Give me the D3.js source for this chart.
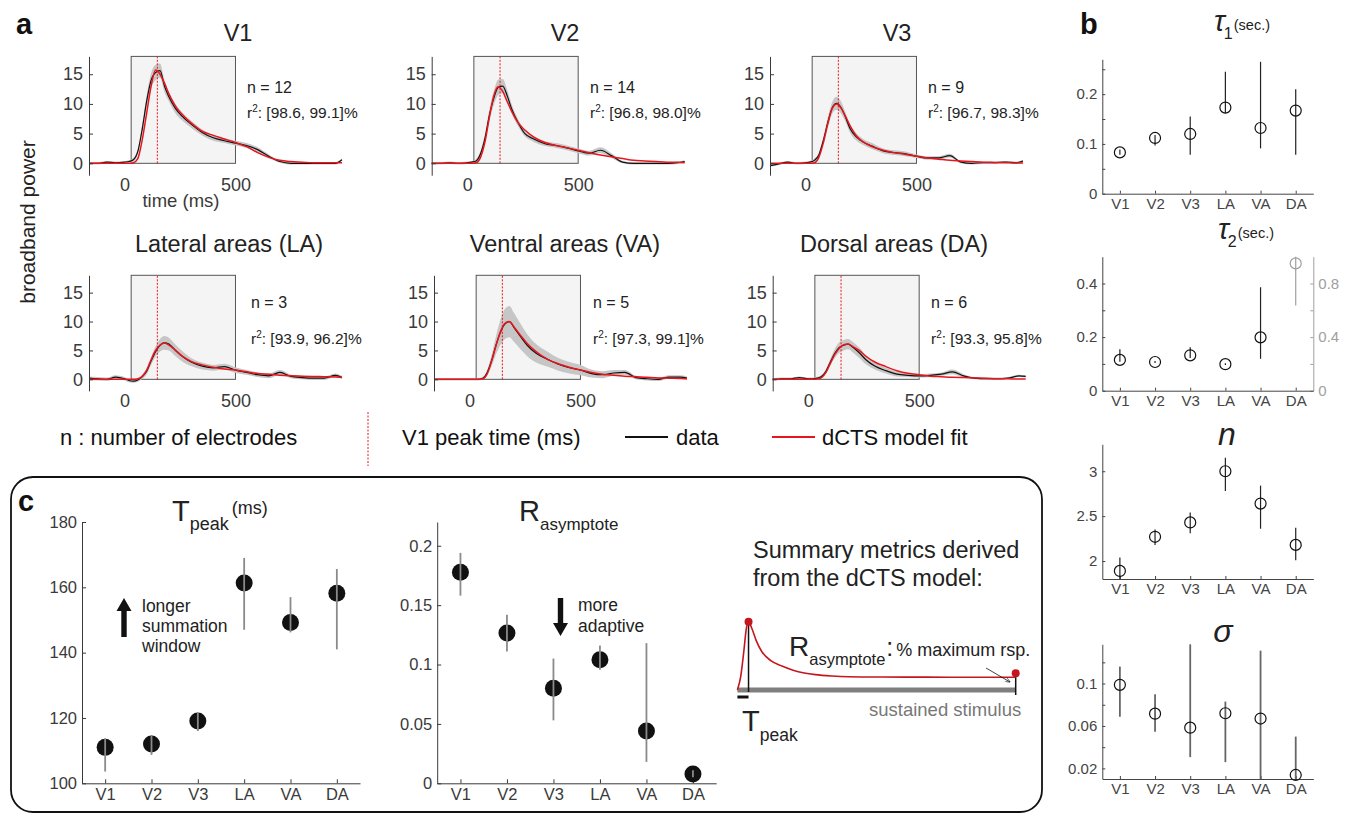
<!DOCTYPE html>
<html>
<head>
<meta charset="utf-8">
<script src="https://cdn.jsdelivr.net/npm/d3@7"></script>
<style>
  body { margin: 0; background: #fff; }
  svg { font-family: "Liberation Sans", Arial, Helvetica, sans-serif; }
</style>
</head>
<body>
<svg id="fig" width="1353" height="815"></svg>
<script>
// ---------- data ----------
// time grid of the broadband traces (ms)
const times = [-160,-120,-80,-40,0,20,40,60,80,100,120,140,160,180,200,230,260,300,350,400,450,500,550,600,650,700,750,800,850,900,950,980];
const stimOn = 30, stimOff = 500, v1PeakTime = 148;

const areaNames = ["V1", "V2", "V3", "LA", "VA", "DA"];
const areaTitles = ["V1", "V2", "V3", "Lateral areas (LA)", "Ventral areas (VA)", "Dorsal areas (DA)"];
const electrodeCounts = [12, 14, 9, 3, 5, 6];
const r2Ranges = ["[98.6, 99.1]%", "[96.8, 98.0]%", "[96.7, 98.3]%", "[93.9, 96.2]%", "[97.3, 99.1]%", "[93.3, 95.8]%"];

// mean data, model fit and band half-width per area
const dataV1 = [0.0,0.0,0.2,0.1, 0.2,0.3,0.6,2.0,5.8,10.5,14.0,15.3,15.6,13.0,11.2, 9.2,7.9,6.6,5.2,4.3,3.8,3.4, 3.0,2.3,1.2,0.3,0.0,0.0,0.0,0.0,0.0,0.6];
const fitV1  = [0,0,0,0, 0,0,0.1,0.8,4.0,8.5,13.0,15.7,15.0,13.5,11.7, 9.6,8.2,6.8,5.4,4.7,4.1,3.5, 2.8,1.8,1.0,0.5,0.3,0.2,0.1,0.1,0.1,0.1];
const bandV1 = [0.2,0.2,0.2,0.2, 0.2,0.2,0.3,0.5,0.8,1.0,1.2,1.3,1.2,1.0,0.8, 0.8,0.7,0.6,0.5,0.5,0.4,0.4, 0.4,0.4,0.3,0.2,0.2,0.2,0.2,0.2,0.2,0.2];

const dataV2 = [0.0,0.0,0.1,0.0, 0.1,0.2,0.4,1.6,4.2,8.1,11.0,12.8,13.0,11.4,9.2, 6.8,5.0,4.1,3.3,3.0,2.6,2.1, 1.7,2.2,1.3,0.2,0.0,0.0,0.0,0.0,0.1,0.3];
const fitV2  = [0,0,0,0, 0,0,0.1,1.0,3.6,7.8,11.4,12.9,12.1,10.4,8.8, 6.8,5.6,4.4,3.5,3.0,2.6,2.2, 1.8,1.4,1.1,0.8,0.5,0.4,0.3,0.2,0.2,0.1];
const bandV2 = [0.2,0.2,0.2,0.2, 0.2,0.2,0.3,0.5,0.8,1.0,1.2,1.3,1.2,1.0,0.8, 0.6,0.5,0.5,0.4,0.4,0.4,0.4, 0.4,0.5,0.4,0.2,0.2,0.2,0.2,0.2,0.2,0.2];

const dataV3 = [-0.4,-0.1,0.2,0.0, 0.1,0.2,0.5,1.4,3.8,6.8,9.3,10.1,9.4,7.8,5.9, 4.4,3.6,2.9,2.1,1.8,1.6,1.2, 0.9,0.9,1.3,0.2,0.0,0.1,0.1,0.2,0.1,0.4];
const fitV3  = [0,0,0,0, 0,0,0.1,1.0,3.4,6.6,9.2,10.0,9.3,7.9,6.4, 4.6,3.6,2.8,2.2,1.8,1.5,1.2, 0.9,0.7,0.5,0.4,0.3,0.2,0.15,0.1,0.05,0.05];
const bandV3 = [0.2,0.2,0.2,0.2, 0.2,0.2,0.3,0.4,0.6,0.9,1.0,1.1,1.0,0.8,0.7, 0.6,0.5,0.5,0.4,0.4,0.4,0.3, 0.3,0.3,0.3,0.2,0.2,0.2,0.2,0.2,0.2,0.2];

const dataLA = [0.2,0.1,0.0,0.4, 0.1,-0.2,-0.3,-0.1,0.5,1.4,3.2,4.8,5.9,6.3,6.1, 5.0,4.0,3.0,2.3,2.0,2.2,1.6, 1.2,0.8,0.6,1.2,0.5,0.3,0.2,0.2,0.7,0.3];
const fitLA  = [0,0,0,0, 0,0,0,0.1,0.5,1.6,3.4,5.0,5.9,6.3,5.9, 5.0,4.0,3.1,2.5,2.1,1.8,1.6, 1.3,1.0,0.9,0.7,0.6,0.55,0.5,0.45,0.4,0.35];
const bandLA = [0.3,0.3,0.3,0.3, 0.3,0.3,0.3,0.3,0.4,0.5,0.7,0.9,1.1,1.2,1.1, 1.0,0.9,0.7,0.6,0.5,0.5,0.5, 0.4,0.4,0.4,0.4,0.3,0.3,0.3,0.3,0.3,0.3];

const dataVA = [0,0,0,0, 0,0,0,0.2,1.2,3.3,6.0,8.2,9.6,10.0,9.0, 7.4,5.9,4.5,3.5,2.6,2.0,1.6, 1.0,0.8,1.1,1.2,0.3,0.1,0.0,0.4,0.4,0.2];
const fitVA  = [0,0,0,0, 0,0,0,0.1,1.0,3.2,5.9,8.3,9.7,10.0,9.1, 7.6,6.2,4.8,3.5,2.7,2.1,1.6, 1.2,0.9,0.7,0.55,0.45,0.35,0.25,0.2,0.15,0.1];
const bandVA = [0.2,0.2,0.2,0.2, 0.2,0.2,0.2,0.2,0.5,1.0,1.6,2.2,2.6,2.7,2.5, 2.2,1.9,1.6,1.3,1.1,1.0,0.9, 0.7,0.6,0.5,0.4,0.3,0.3,0.3,0.3,0.3,0.3];

const dataDA = [0.0,0.1,0.1,0.3, 0.1,0.1,0.2,0.5,1.4,3.0,4.5,5.5,5.9,6.1,5.6, 4.6,3.4,2.3,1.5,0.9,0.7,0.6, 0.7,0.9,1.3,0.6,0.2,0.1,0.1,0.2,0.6,0.5];
const fitDA  = [0,0,0,0, 0,0,0.05,0.3,1.2,2.8,4.3,5.4,6.0,6.1,5.7, 5.0,4.0,3.0,2.2,1.5,1.05,0.8, 0.55,0.45,0.35,0.3,0.25,0.2,0.1,0.1,0.05,0.05];
const bandDA = [0.2,0.2,0.2,0.2, 0.2,0.2,0.2,0.3,0.4,0.6,0.8,0.9,0.9,0.9,0.9, 0.9,0.8,0.6,0.5,0.4,0.3,0.3, 0.3,0.3,0.4,0.3,0.2,0.2,0.2,0.2,0.2,0.2];

// panel b: model parameters (median and interval per area)
const tau1Mean = [0.083, 0.112, 0.120, 0.173, 0.132, 0.167];
const tau1Low  = [0.078, 0.097, 0.078, 0.162, 0.091, 0.078];
const tau1High = [0.089, 0.118, 0.155, 0.245, 0.265, 0.210];

const tau2Mean = [0.115, 0.107, 0.132, 0.099, 0.199, 0.95];
const tau2Low  = [0.108, 0.103, 0.122, 0.096, 0.119, 0.635];
const tau2High = [0.155, 0.111, 0.162, 0.102, 0.386, 1.0];

const nMean = [1.89, 2.27, 2.43, 3.0, 2.64, 2.18];
const nLow  = [1.80, 2.18, 2.31, 2.78, 2.36, 2.01];
const nHigh = [2.04, 2.35, 2.54, 3.15, 2.84, 2.37];

const sigmaMean = [0.0988, 0.0716, 0.0584, 0.072, 0.067, 0.0138];
const sigmaLow  = [0.0687, 0.0545, 0.0306, 0.0259, 0.010, 0.010];
const sigmaHigh = [0.116, 0.090, 0.137, 0.083, 0.131, 0.050];

// panel c: summary metrics
const tpeakMean = [111.0, 112.0, 119.1, 161.3, 149.2, 158.2];
const tpeakLow  = [103.6, 108.7, 116.0, 147.0, 146.2, 141.0];
const tpeakHigh = [113.8, 114.8, 121.6, 169.0, 157.0, 165.6];

const rasymMean = [0.1776, 0.1265, 0.080, 0.104, 0.044, 0.0078];
const rasymLow  = [0.158, 0.111, 0.053, 0.0955, 0.018, 0.005];
const rasymHigh = [0.194, 0.142, 0.105, 0.116, 0.118, 0.011];

// schematic dCTS response to a sustained stimulus
const schemT = [0, 0.3, 0.6, 0.8, 1.0, 1.3, 1.7, 2.2, 3, 4, 5, 6, 7, 8.5, 10, 13, 17, 21, 25];
const schemR = [0, 0.2, 0.6, 0.9, 1.0, 0.9, 0.72, 0.56, 0.43, 0.35, 0.29, 0.25, 0.225, 0.205, 0.195, 0.19, 0.188, 0.187, 0.186];

// ---------- drawing ----------
const svg = d3.select("#fig");
const ink = "#333";
const red = "#e8161c";

svg.append("rect").attr("width", 1353).attr("height", 815).attr("fill", "#fff");

function styleAxis(g, size, color) {
  g.attr("font-family", null).attr("font-size", size).attr("color", color || ink);
  g.selectAll("text").attr("fill", color || ink);
}

// panel labels
[["a", 16, 34], ["b", 1080, 34], ["c", 18, 511]].forEach(([t, x, y]) => {
  svg.append("text").attr("x", x).attr("y", y).attr("font-size", 29)
    .attr("font-weight", "bold").attr("fill", "#111").text(t);
});

// ----- panel a: broadband traces -----
const tracePanels = [
  { data: dataV1, fit: fitV1, band: bandV1 },
  { data: dataV2, fit: fitV2, band: bandV2 },
  { data: dataV3, fit: fitV3, band: bandV3 },
  { data: dataLA, fit: fitLA, band: bandLA },
  { data: dataVA, fit: fitVA, band: bandVA },
  { data: dataDA, fit: fitDA, band: bandDA }
];

const rowGeom = [
  { top: 56.4, bottom: 175.2, titleY: 41, nY: 93, rY: 117.5, pad: 3.5 },
  { top: 275.3, bottom: 390.9, titleY: 252, nY: 307.5, rY: 344, pad: 3 }
];
const panelGeom = [
  { x: 89, row: 0, titleX: 238, textX: 247 },
  { x: 431.7, row: 0, titleX: 565, textX: 590 },
  { x: 770, row: 0, titleX: 897, textX: 928 },
  { x: 89, row: 1, titleX: 229, textX: 251 },
  { x: 434, row: 1, titleX: 565, textX: 593 },
  { x: 772.7, row: 1, titleX: 894, textX: 931 }
];

tracePanels.forEach((p, i) => {
  const geo = panelGeom[i], row = rowGeom[geo.row];
  const x = d3.scaleLinear().domain([-160, 980]).range([geo.x, geo.x + 253]);
  const y = d3.scaleLinear().domain([-2, 18]).range([row.bottom, row.top]);
  const g = svg.append("g");

  // stimulus window
  g.append("rect")
    .attr("x", x(stimOn)).attr("y", y(18))
    .attr("width", x(stimOff) - x(stimOn)).attr("height", y(0) - y(18))
    .attr("fill", "#f4f4f4").attr("stroke", "#555").attr("stroke-width", 1);

  const band = d3.area()
    .x((d, j) => x(times[j]))
    .y0((d, j) => y(p.data[j] - p.band[j]))
    .y1((d, j) => y(p.data[j] + p.band[j]))
    .curve(d3.curveMonotoneX);
  g.append("path").attr("d", band(times)).attr("fill", "#c6c6c6");

  const line = d3.line().x((d, j) => x(times[j])).y(d => y(d)).curve(d3.curveMonotoneX);
  g.append("path").attr("d", line(p.data)).attr("fill", "none").attr("stroke", "#111").attr("stroke-width", 1.2);
  g.append("path").attr("d", line(p.fit)).attr("fill", "none").attr("stroke", red).attr("stroke-width", 1.5);

  g.append("line")
    .attr("x1", x(v1PeakTime)).attr("x2", x(v1PeakTime))
    .attr("y1", y(0)).attr("y2", y(18))
    .attr("stroke", red).attr("stroke-width", 1).attr("stroke-dasharray", "2,1.5");

  const ya = g.append("g").attr("transform", `translate(${geo.x},0)`)
    .call(d3.axisLeft(y).tickValues([0, 5, 10, 15]).tickSize(-4).tickSizeOuter(0).tickPadding(6));
  styleAxis(ya, 18, "#3a3a3a");

  const xa = g.append("g").attr("transform", `translate(0,${row.bottom})`)
    .call(d3.axisBottom(x).tickValues([0, 500]).tickSize(0).tickPadding(row.pad));
  xa.select(".domain").remove();
  styleAxis(xa, 18, "#3a3a3a");

  g.append("text").attr("x", geo.titleX).attr("y", row.titleY).attr("text-anchor", "middle")
    .attr("font-size", 23.5).attr("fill", "#222").text(areaTitles[i]);

  g.append("text").attr("x", geo.textX).attr("y", row.nY).attr("font-size", 16).attr("fill", "#222")
    .text(`n = ${electrodeCounts[i]}`);
  const rt = g.append("text").attr("x", geo.textX).attr("y", row.rY).attr("font-size", 15.5).attr("fill", "#222");
  rt.append("tspan").text("r");
  rt.append("tspan").attr("dy", -6).attr("font-size", 10).text("2");
  rt.append("tspan").attr("dy", 6).text(": " + r2Ranges[i]);

  if (i === 0) {
    g.append("text").attr("x", 181).attr("y", 207).attr("text-anchor", "middle")
      .attr("font-size", 18.5).attr("fill", "#3a3a3a").text("time (ms)");
  }
});

svg.append("text").attr("transform", "translate(35,222) rotate(-90)").attr("text-anchor", "middle")
  .attr("font-size", 21).attr("fill", "#222").text("broadband power");

// legend of panel a
const leg = svg.append("g").attr("font-size", 22).attr("fill", "#111");
leg.append("text").attr("x", 60).attr("y", 445).text("n : number of electrodes");
leg.append("line").attr("x1", 368).attr("x2", 368).attr("y1", 412).attr("y2", 466)
  .attr("stroke", red).attr("stroke-width", 1).attr("stroke-dasharray", "2,1.5");
leg.append("text").attr("x", 402).attr("y", 445).text("V1 peak time (ms)");
leg.append("line").attr("x1", 625).attr("x2", 668).attr("y1", 437).attr("y2", 437).attr("stroke", "#111").attr("stroke-width", 2);
leg.append("text").attr("x", 676).attr("y", 445).text("data");
leg.append("line").attr("x1", 772).attr("x2", 815).attr("y1", 437).attr("y2", 437).attr("stroke", red).attr("stroke-width", 2);
leg.append("text").attr("x", 822).attr("y", 445).text("dCTS model fit");

// ----- panel b: model parameters -----
const bX = d3.scaleLinear().domain([0.5, 6.5]).range([1102.3, 1313.3]);
const paramPanels = [
  { mean: tau1Mean, low: tau1Low, high: tau1High, domain: [0, 0.27], range: [193.7, 59.3],
    major: [0, 0.1, 0.2], minor: [0.05, 0.15, 0.25], bar: "#222", barW: 1.2 },
  { mean: tau2Mean, low: tau2Low, high: tau2High, domain: [0, 0.5], range: [390.7, 256.7],
    major: [0, 0.2, 0.4], minor: [0.1, 0.3], bar: "#222", barW: 1.2,
    right: { domain: [0, 1], major: [0, 0.4, 0.8], minor: [0.2, 0.6], idx: [5], color: "#a0a0a0" } },
  { mean: nMean, low: nLow, high: nHigh, domain: [1.8, 3.3], range: [579, 444.3],
    major: [2, 2.5, 3], minor: [], bar: "#222", barW: 1.2 },
  { mean: sigmaMean, low: sigmaLow, high: sigmaHigh, domain: [0.01, 0.137], range: [779, 644.3],
    major: [0.02, 0.06, 0.1], minor: [0.04, 0.08, 0.12], bar: "#666", barW: 1.8 }
];

paramPanels.forEach(pp => {
  const y = d3.scaleLinear().domain(pp.domain).range(pp.range);
  const yr = pp.right ? d3.scaleLinear().domain(pp.right.domain).range(pp.range) : null;
  const g = svg.append("g");
  const onRight = j => pp.right && pp.right.idx.includes(j);

  const la = g.append("g").attr("transform", `translate(${bX.range()[0]},0)`)
    .call(d3.axisLeft(y).tickValues(pp.major).tickFormat(d => String(d)).tickSize(-3).tickSizeOuter(0).tickPadding(5));
  styleAxis(la, 15, "#444");
  const lm = g.append("g").attr("transform", `translate(${bX.range()[0]},0)`)
    .call(d3.axisLeft(y).tickValues(pp.minor).tickFormat("").tickSize(-3).tickSizeOuter(0));
  lm.select(".domain").remove();
  styleAxis(lm, 15, "#444");

  if (yr) {
    const ra = g.append("g").attr("transform", `translate(${bX.range()[1]},0)`)
      .call(d3.axisRight(yr).tickValues(pp.right.major).tickFormat(d => String(d)).tickSize(-3).tickSizeOuter(0).tickPadding(5));
    styleAxis(ra, 15, pp.right.color);
    const rm = g.append("g").attr("transform", `translate(${bX.range()[1]},0)`)
      .call(d3.axisRight(yr).tickValues(pp.right.minor).tickFormat("").tickSize(-3).tickSizeOuter(0));
    rm.select(".domain").remove();
    styleAxis(rm, 15, pp.right.color);
  }

  const ba = g.append("g").attr("transform", `translate(0,${pp.range[0]})`)
    .call(d3.axisBottom(bX).tickValues([1, 2, 3, 4, 5, 6]).tickFormat(d => areaNames[d - 1])
      .tickSize(-3).tickSizeOuter(0).tickPadding(4.5));
  styleAxis(ba, 15, "#444");

  const sc = j => onRight(j) ? yr : y;
  g.selectAll("line.err").data(pp.mean).join("line").attr("class", "err")
    .attr("x1", (d, j) => bX(j + 1)).attr("x2", (d, j) => bX(j + 1))
    .attr("y1", (d, j) => sc(j)(pp.low[j])).attr("y2", (d, j) => sc(j)(pp.high[j]))
    .attr("stroke", (d, j) => onRight(j) ? pp.right.color : pp.bar)
    .attr("stroke-width", pp.barW);
  g.selectAll("circle.pt").data(pp.mean).join("circle").attr("class", "pt")
    .attr("cx", (d, j) => bX(j + 1)).attr("cy", (d, j) => sc(j)(d)).attr("r", 5.5)
    .attr("fill", "none").attr("stroke", (d, j) => onRight(j) ? pp.right.color : "#111").attr("stroke-width", 1.2);
});

// panel b titles
[["1", 1214, 31], ["2", 1218, 239]].forEach(([k, x, y]) => {
  const t = svg.append("text").attr("x", x).attr("y", y).attr("fill", "#222");
  t.append("tspan").attr("font-size", 29).attr("font-style", "italic").text("τ");
  t.append("tspan").attr("font-size", 16).attr("dy", 8).attr("dx", -1).text(k);
  t.append("tspan").attr("font-size", 14.5).attr("dy", -9).attr("dx", 1).text("(sec.)");
});
svg.append("text").attr("x", 1227).attr("y", 445).attr("text-anchor", "middle")
  .attr("font-size", 32).attr("font-style", "italic").attr("fill", "#222").text("n");
svg.append("text").attr("x", 1223).attr("y", 642).attr("text-anchor", "middle")
  .attr("font-size", 32).attr("font-style", "italic").attr("fill", "#222").text("σ");

// ----- panel c: summary metrics -----
svg.append("rect").attr("x", 11).attr("y", 477).attr("width", 1031).attr("height", 335)
  .attr("rx", 22).attr("fill", "none").attr("stroke", "#111").attr("stroke-width", 1.8);

const summaryPanels = [
  { mean: tpeakMean, low: tpeakLow, high: tpeakHigh, x: [82, 360], domain: [100, 180],
    ticks: [100, 120, 140, 160, 180] },
  { mean: rasymMean, low: rasymLow, high: rasymHigh, x: [437.2, 716.2], domain: [0, 0.22],
    ticks: [0, 0.05, 0.1, 0.15, 0.2] }
];
summaryPanels.forEach(sp => {
  const x = d3.scaleLinear().domain([0.5, 6.5]).range(sp.x);
  const y = d3.scaleLinear().domain(sp.domain).range([783.3, 522]);
  const g = svg.append("g");
  const la = g.append("g").attr("transform", `translate(${sp.x[0]},0)`)
    .call(d3.axisLeft(y).tickValues(sp.ticks).tickFormat(d => String(d)).tickSize(-4).tickSizeOuter(0).tickPadding(5));
  styleAxis(la, 16.5, "#3a3a3a");
  const ba = g.append("g").attr("transform", `translate(0,783.3)`)
    .call(d3.axisBottom(x).tickValues([1, 2, 3, 4, 5, 6]).tickFormat(d => areaNames[d - 1])
      .tickSize(-4).tickSizeOuter(0).tickPadding(5));
  styleAxis(ba, 16.5, "#3a3a3a");
  g.selectAll("circle").data(sp.mean).join("circle")
    .attr("cx", (d, j) => x(j + 1)).attr("cy", d => y(d)).attr("r", 8.5).attr("fill", "#111");
  g.selectAll("line.err").data(sp.mean).join("line").attr("class", "err")
    .attr("x1", (d, j) => x(j + 1)).attr("x2", (d, j) => x(j + 1))
    .attr("y1", (d, j) => y(sp.low[j])).attr("y2", (d, j) => y(sp.high[j]))
    .attr("stroke", "#8a8a8a").attr("stroke-width", 1.8);
});

// titles of panel c
const tp = svg.append("text").attr("x", 172).attr("y", 521).attr("fill", "#222");
tp.append("tspan").attr("font-size", 29).text("T");
tp.append("tspan").attr("font-size", 18).attr("dy", 9).text("peak");
tp.append("tspan").attr("font-size", 18).attr("dy", -16).attr("dx", 3).text("(ms)");
const ra = svg.append("text").attr("x", 519).attr("y", 521).attr("fill", "#222");
ra.append("tspan").attr("font-size", 29).text("R");
ra.append("tspan").attr("font-size", 17).attr("dy", 9).text("asymptote");

// block arrows with annotations
function blockArrow(cx, yTail, yTip) {
  const dir = yTip < yTail ? -1 : 1, hw = 7.5, sw = 2.7, hh = 13;
  const yb = yTip - dir * hh;
  return `M${cx - sw},${yTail}L${cx - sw},${yb}L${cx - hw},${yb}L${cx},${yTip}L${cx + hw},${yb}L${cx + sw},${yb}L${cx + sw},${yTail}Z`;
}
svg.append("path").attr("d", blockArrow(124, 637, 598)).attr("fill", "#111");
svg.append("path").attr("d", blockArrow(560.5, 598, 636)).attr("fill", "#111");
const ann1 = svg.append("g").attr("font-size", 17.5).attr("fill", "#222");
["longer", "summation", "window"].forEach((s, k) =>
  ann1.append("text").attr("x", 142).attr("y", 612 + k * 20).text(s));
["more", "adaptive"].forEach((s, k) =>
  ann1.append("text").attr("x", 578).attr("y", 611 + k * 21).text(s));

// schematic
svg.append("text").attr("x", 753).attr("y", 558).attr("font-size", 23.5).attr("fill", "#222").text("Summary metrics derived");
svg.append("text").attr("x", 753).attr("y", 586).attr("font-size", 23.5).attr("fill", "#222").text("from the dCTS model:");

const sx = d3.scaleLinear().domain([0, 25]).range([737.4, 1015.7]);
const sy = d3.scaleLinear().domain([0, 1]).range([690, 621.7]);
const sg = svg.append("g");
sg.append("line").attr("x1", sx(0)).attr("x2", sx(25)).attr("y1", sy(0)).attr("y2", sy(0))
  .attr("stroke", "#7f7f7f").attr("stroke-width", 5);
const peakT = schemT[schemR.indexOf(d3.max(schemR))];
sg.append("line").attr("x1", sx(peakT)).attr("x2", sx(peakT)).attr("y1", sy(1)).attr("y2", sy(0) + 2)
  .attr("stroke", "#111").attr("stroke-width", 1.5);
sg.append("line").attr("x1", sx(25)).attr("x2", sx(25)).attr("y1", sy(schemR[schemR.length - 1]) - 4).attr("y2", sy(0) + 5)
  .attr("stroke", "#111").attr("stroke-width", 1.5);
sg.append("line").attr("x1", sx(0)).attr("x2", sx(peakT)).attr("y1", sy(0) + 7).attr("y2", sy(0) + 7)
  .attr("stroke", "#111").attr("stroke-width", 3);
sg.append("path")
  .attr("d", d3.line().x((d, j) => sx(schemT[j])).y(d => sy(d)).curve(d3.curveMonotoneX)(schemR))
  .attr("fill", "none").attr("stroke", "#c4161c").attr("stroke-width", 1.6);
sg.append("circle").attr("cx", sx(peakT)).attr("cy", sy(1)).attr("r", 4).attr("fill", "#c4161c");
sg.append("circle").attr("cx", sx(25)).attr("cy", sy(schemR[schemR.length - 1]) - 4).attr("r", 4).attr("fill", "#c4161c");

svg.append("defs").append("marker").attr("id", "ah").attr("viewBox", "0 0 10 10")
  .attr("refX", 9).attr("refY", 5).attr("markerWidth", 6).attr("markerHeight", 6).attr("orient", "auto")
  .append("path").attr("d", "M0,1L10,5L0,9").attr("fill", "none").attr("stroke", "#111").attr("stroke-width", 1.2);
sg.append("line").attr("x1", 986).attr("y1", 668).attr("x2", 1010).attr("y2", 682)
  .attr("stroke", "#111").attr("stroke-width", 0.8).attr("marker-end", "url(#ah)");

const rs = svg.append("text").attr("x", 789).attr("y", 656).attr("fill", "#222");
rs.append("tspan").attr("font-size", 28).text("R");
rs.append("tspan").attr("font-size", 16.5).attr("dy", 9).text("asymptote");
rs.append("tspan").attr("font-size", 25).attr("dy", -9).attr("dx", 1).text(":");
rs.append("tspan").attr("font-size", 18).attr("dx", 3).text("% maximum rsp.");

const ts = svg.append("text").attr("x", 742).attr("y", 731).attr("fill", "#222");
ts.append("tspan").attr("font-size", 29).text("T");
ts.append("tspan").attr("font-size", 17.5).attr("dy", 10).text("peak");

svg.append("text").attr("x", 869).attr("y", 716).attr("font-size", 18.5).attr("fill", "#777").text("sustained stimulus");
</script>
</body>
</html>
